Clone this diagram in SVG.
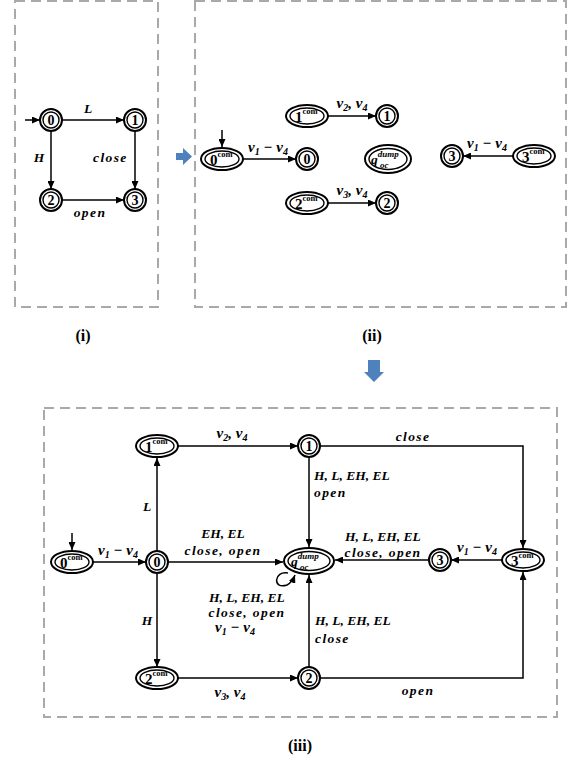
<svg xmlns="http://www.w3.org/2000/svg" width="580" height="758" viewBox="0 0 580 758">
<style>
.box{fill:none;stroke:#a9a9a9;stroke-width:2;stroke-dasharray:10 6}
.o{fill:#fff;stroke:#000;stroke-width:2}
.i{fill:none;stroke:#000;stroke-width:1.4}
.e{fill:none;stroke:#000;stroke-width:1.5;marker-end:url(#ah)}
.num{font-family:"Liberation Serif",serif;font-weight:bold;font-size:14px;text-anchor:middle}
.big{font-family:"Liberation Serif",serif;font-weight:bold;font-size:15px;fill:#000}
.lbl{font-family:"Liberation Serif",serif;font-style:italic;font-weight:bold;font-size:13.5px}
.w{letter-spacing:1.4px}
.v{font-size:15px}
.mid{text-anchor:middle}
.cap{font-family:"Liberation Serif",serif;font-weight:bold;font-size:16px;text-anchor:middle}
.blue{fill:#4f81bd}
</style>
<defs>
<marker id="ah" markerUnits="userSpaceOnUse" markerWidth="8" markerHeight="7" refX="8" refY="3.5" orient="auto">
<path d="M0,0 L8,3.5 L0,7 z" fill="#000"/>
</marker>
</defs>

<rect class="box" x="15" y="1" width="143" height="306"/>
<rect class="box" x="195" y="1" width="371" height="306"/>
<rect class="box" x="44" y="408" width="513" height="309"/>

<polygon class="blue" points="176,153 183,153 183,148 192,156.5 183,165 183,160 176,160"/>
<polygon class="blue" points="368,360 380,360 380,372 384,372 374,382 364,372 368,372"/>

<text class="cap" x="83" y="341">(i)</text>
<text class="cap" x="372" y="341">(ii)</text>
<text class="cap" x="300" y="751">(iii)</text>

<g id="connectors">
<!-- (i) -->
<line class="e" x1="25" y1="120" x2="40" y2="120"/>
<line class="e" x1="62" y1="120" x2="124" y2="120"/>
<line class="e" x1="51" y1="131" x2="51" y2="189"/>
<line class="e" x1="135" y1="131" x2="135" y2="189"/>
<line class="e" x1="62" y1="200" x2="124" y2="200"/>
<text class="lbl mid" x="88" y="113">L</text>
<text class="lbl mid" x="39" y="162">H</text>
<text class="lbl w" x="93" y="162">close</text>
<text class="lbl w mid" x="90" y="217">open</text>
<!-- (ii) -->
<line class="e" x1="222" y1="130" x2="222" y2="147"/>
<line class="e" x1="243" y1="159" x2="296" y2="159"/>
<line class="e" x1="328" y1="116" x2="376" y2="116"/>
<line class="e" x1="328" y1="203" x2="376" y2="203"/>
<line class="e" x1="513" y1="156" x2="463" y2="156"/>
<text class="lbl v mid" x="268" y="152">v<tspan dy="3" font-size="10">1</tspan><tspan dy="-3"> − v</tspan><tspan dy="3" font-size="10">4</tspan></text>
<text class="lbl v mid" x="352" y="108">v<tspan dy="3" font-size="10">2</tspan><tspan dy="-3">, v</tspan><tspan dy="3" font-size="10">4</tspan></text>
<text class="lbl v mid" x="352" y="195">v<tspan dy="3" font-size="10">3</tspan><tspan dy="-3">, v</tspan><tspan dy="3" font-size="10">4</tspan></text>
<text class="lbl v mid" x="487" y="148">v<tspan dy="3" font-size="10">1</tspan><tspan dy="-3"> − v</tspan><tspan dy="3" font-size="10">4</tspan></text>
<!-- (iii) -->
<line class="e" x1="72" y1="533" x2="72" y2="550"/>
<line class="e" x1="93" y1="562" x2="146" y2="562"/>
<line class="e" x1="157" y1="551" x2="157" y2="458"/>
<line class="e" x1="177" y1="446" x2="298" y2="446"/>
<polyline class="e" points="320,446 523,446 523,548"/>
<line class="e" x1="309" y1="457" x2="309" y2="547"/>
<line class="e" x1="168" y1="562" x2="283" y2="562"/>
<line class="e" x1="503" y1="560" x2="451" y2="560"/>
<line class="e" x1="429" y1="560" x2="335" y2="560"/>
<line class="e" x1="157" y1="573" x2="157" y2="667"/>
<line class="e" x1="177" y1="678" x2="298" y2="678"/>
<line class="e" x1="309" y1="667" x2="309" y2="575"/>
<polyline class="e" points="320,678 523,678 523,572"/>
<path class="e" d="M288,573 C274,570 272,590 287,585 C291,583 293,580 295,575"/>

<text class="lbl v mid" x="118" y="555">v<tspan dy="3" font-size="10">1</tspan><tspan dy="-3"> − v</tspan><tspan dy="3" font-size="10">4</tspan></text>
<text class="lbl mid" x="147" y="511">L</text>
<text class="lbl v mid" x="232" y="438">v<tspan dy="3" font-size="10">2</tspan><tspan dy="-3">, v</tspan><tspan dy="3" font-size="10">4</tspan></text>
<text class="lbl w mid" x="413" y="441">close</text>
<text class="lbl" x="314" y="480">H, L, EH, EL</text>
<text class="lbl w" x="314" y="497">open</text>
<text class="lbl mid" x="223" y="538">EH, EL</text>
<text class="lbl w mid" x="223" y="555">close, open</text>
<text class="lbl v mid" x="477" y="552">v<tspan dy="3" font-size="10">1</tspan><tspan dy="-3"> − v</tspan><tspan dy="3" font-size="10">4</tspan></text>
<text class="lbl mid" x="383" y="541">H, L, EH, EL</text>
<text class="lbl w mid" x="383" y="557">close, open</text>
<text class="lbl mid" x="147" y="625">H</text>
<text class="lbl v mid" x="230" y="697">v<tspan dy="3" font-size="10">3</tspan><tspan dy="-3">, v</tspan><tspan dy="3" font-size="10">4</tspan></text>
<text class="lbl" x="315" y="625">H, L, EH, EL</text>
<text class="lbl w" x="315" y="643">close</text>
<text class="lbl w mid" x="418" y="695">open</text>
<text class="lbl mid" x="247" y="602">H, L, EH, EL</text>
<text class="lbl w mid" x="247" y="617">close, open</text>
<text class="lbl v mid" x="235" y="632">v<tspan dy="3" font-size="10">1</tspan><tspan dy="-3"> − v</tspan><tspan dy="3" font-size="10">4</tspan></text>
</g>

<!-- (i) nodes -->
<g id="i-s0"><circle class="o" cx="51" cy="120" r="11"/><circle class="i" cx="51" cy="120" r="8"/><text class="num" x="51" y="125">0</text></g>
<g id="i-s1"><circle class="o" cx="135" cy="120" r="11"/><circle class="i" cx="135" cy="120" r="8"/><text class="num" x="135" y="125">1</text></g>
<g id="i-s2"><circle class="o" cx="51" cy="200" r="11"/><circle class="i" cx="51" cy="200" r="8"/><text class="num" x="51" y="205">2</text></g>
<g id="i-s3"><circle class="o" cx="135" cy="200" r="11"/><circle class="i" cx="135" cy="200" r="8"/><text class="num" x="135" y="205">3</text></g>

<!-- (ii) nodes -->
<g id="ii-0com"><ellipse class="o" cx="222" cy="159" rx="21" ry="11"/><ellipse class="i" cx="222" cy="159" rx="17" ry="8"/><text class="big" x="210" y="165">0<tspan font-size="8.5" dy="-8">com</tspan></text></g>
<g id="ii-s0"><circle class="o" cx="307" cy="159" r="11"/><circle class="i" cx="307" cy="159" r="8"/><text class="num" x="307" y="164">0</text></g>
<g id="ii-1com"><ellipse class="o" cx="307" cy="116" rx="21" ry="11"/><ellipse class="i" cx="307" cy="116" rx="17" ry="8"/><text class="big" x="295" y="122">1<tspan font-size="8.5" dy="-8">com</tspan></text></g>
<g id="ii-s1"><circle class="o" cx="387" cy="116" r="11"/><circle class="i" cx="387" cy="116" r="8"/><text class="num" x="387" y="121">1</text></g>
<g id="ii-2com"><ellipse class="o" cx="307" cy="203" rx="21" ry="11"/><ellipse class="i" cx="307" cy="203" rx="17" ry="8"/><text class="big" x="295" y="209">2<tspan font-size="8.5" dy="-8">com</tspan></text></g>
<g id="ii-s2"><circle class="o" cx="387" cy="203" r="11"/><circle class="i" cx="387" cy="203" r="8"/><text class="num" x="387" y="208">2</text></g>
<g id="ii-dump"><ellipse class="o" cx="388" cy="159" rx="23" ry="14"/><ellipse class="i" cx="388" cy="159" rx="19" ry="10.5"/><text class="lbl" x="371" y="164" font-size="16">q<tspan font-size="9" dy="-7">dump</tspan><tspan font-size="9" x="380" dy="11">oc</tspan></text></g>
<g id="ii-s3"><circle class="o" cx="452" cy="156" r="11"/><circle class="i" cx="452" cy="156" r="8"/><text class="num" x="452" y="161">3</text></g>
<g id="ii-3com"><ellipse class="o" cx="534" cy="156" rx="21" ry="11"/><ellipse class="i" cx="534" cy="156" rx="17" ry="8"/><text class="big" x="522" y="162">3<tspan font-size="8.5" dy="-8">com</tspan></text></g>

<!-- (iii) nodes -->
<g id="iii-0com"><ellipse class="o" cx="72" cy="562" rx="21" ry="11"/><ellipse class="i" cx="72" cy="562" rx="17" ry="8"/><text class="big" x="60" y="568">0<tspan font-size="8.5" dy="-8">com</tspan></text></g>
<g id="iii-s0"><circle class="o" cx="157" cy="562" r="11"/><circle class="i" cx="157" cy="562" r="8"/><text class="num" x="157" y="567">0</text></g>
<g id="iii-1com"><ellipse class="o" cx="157" cy="446" rx="21" ry="11"/><ellipse class="i" cx="157" cy="446" rx="17" ry="8"/><text class="big" x="145" y="452">1<tspan font-size="8.5" dy="-8">com</tspan></text></g>
<g id="iii-s1"><circle class="o" cx="309" cy="446" r="11"/><circle class="i" cx="309" cy="446" r="8"/><text class="num" x="309" y="451">1</text></g>
<g id="iii-dump"><ellipse class="o" cx="309" cy="561" rx="25" ry="13"/><ellipse class="i" cx="309" cy="561" rx="21" ry="9.5"/><text class="lbl" x="291" y="566" font-size="16">q<tspan font-size="9" dy="-7">dump</tspan><tspan font-size="9" x="300" dy="11">oc</tspan></text></g>
<g id="iii-s3"><circle class="o" cx="440" cy="560" r="11"/><circle class="i" cx="440" cy="560" r="8"/><text class="num" x="440" y="565">3</text></g>
<g id="iii-3com"><ellipse class="o" cx="523" cy="560" rx="21" ry="11"/><ellipse class="i" cx="523" cy="560" rx="17" ry="8"/><text class="big" x="511" y="566">3<tspan font-size="8.5" dy="-8">com</tspan></text></g>
<g id="iii-2com"><ellipse class="o" cx="157" cy="678" rx="21" ry="11"/><ellipse class="i" cx="157" cy="678" rx="17" ry="8"/><text class="big" x="145" y="684">2<tspan font-size="8.5" dy="-8">com</tspan></text></g>
<g id="iii-s2"><circle class="o" cx="309" cy="678" r="11"/><circle class="i" cx="309" cy="678" r="8"/><text class="num" x="309" y="683">2</text></g>
</svg>
